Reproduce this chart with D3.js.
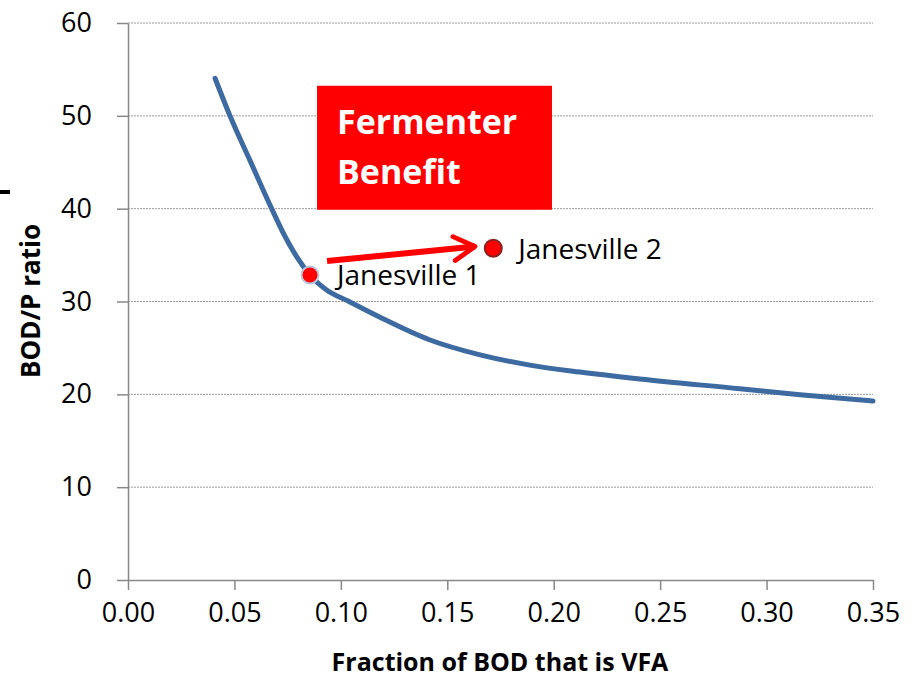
<!DOCTYPE html>
<html>
<head>
<meta charset="utf-8">
<script src="https://cdn.jsdelivr.net/npm/d3@7"></script>
<style>
  body { margin: 0; background: #fff; }
  text { font-family: "Open Sans", Lato, sans-serif; }
</style>
</head>
<body>
<svg id="chart" width="917" height="680"></svg>
<script>
// curve
const curveX = [0.0409, 0.0479, 0.0573, 0.0675, 0.073, 0.0793, 0.0855, 0.0933, 0.1034, 0.1184, 0.1419, 0.1654, 0.1888, 0.2123, 0.2405, 0.2875, 0.3157, 0.35];
const curveY = [54.05, 50.0, 45.2, 40.0, 37.35, 34.8, 32.85, 31.25, 30.05, 28.3, 25.85, 24.25, 23.15, 22.4, 21.65, 20.6, 19.95, 19.28];

const pointNames = ['Janesville 1', 'Janesville 2'];
const pointX = [0.0855, 0.1716];
const pointY = [32.85, 35.73];

const arrowFrom = [0.0935, 34.36];
const arrowTo = [0.163, 35.92];

const xTicks = [0, 0.05, 0.1, 0.15, 0.2, 0.25, 0.3, 0.35];
const yTicks = [0, 10, 20, 30, 40, 50, 60];

const boxLines = ['Fermenter', 'Benefit'];

const margin = { top: 23, right: 44, bottom: 100, left: 128 };
const width = 917 - margin.left - margin.right;
const height = 680 - margin.top - margin.bottom;

const svg = d3.select('#chart');
const g = svg.append('g')
  .attr('transform', `translate(${margin.left}, ${margin.top})`);

const x = d3.scaleLinear().domain([0, 0.35]).range([0, width]);
const y = d3.scaleLinear().domain([0, 60]).range([height, 0]);

// gridlines
g.selectAll('.grid')
  .data(yTicks.filter(d => d > 0))
  .enter()
  .append('line')
  .attr('class', 'grid')
  .attr('x1', 0)
  .attr('x2', width)
  .attr('y1', d => y(d))
  .attr('y2', d => y(d))
  .attr('stroke', '#9a9a9a')
  .attr('stroke-width', 1)
  .attr('stroke-dasharray', '2,1');

const yAxis = d3.axisLeft(y)
  .tickValues(yTicks)
  .tickSize(11)
  .tickPadding(25)
  .tickSizeOuter(0);

const xAxis = d3.axisBottom(x)
  .tickValues(xTicks)
  .tickFormat(d3.format('.2f'))
  .tickSize(10)
  .tickPadding(13)
  .tickSizeOuter(0);

const ya = g.append('g').attr('class', 'y axis').call(yAxis);
const xa = g.append('g').attr('class', 'x axis')
  .attr('transform', `translate(0, ${height})`)
  .call(xAxis);

[ya, xa].forEach((a) => {
  a.attr('font-family', null);
  a.select('.domain').attr('stroke', '#888').attr('stroke-width', 1.5);
  a.selectAll('.tick line').attr('stroke', '#888').attr('stroke-width', 1.5);
  a.selectAll('.tick text').attr('fill', '#000').style('font-size', '27px');
});

// axis titles
svg.append('text')
  .attr('x', 500)
  .attr('y', 671)
  .attr('text-anchor', 'middle')
  .style('font-size', '25px')
  .style('font-weight', 'bold')
  .text('Fraction of BOD that is VFA');

svg.append('text')
  .attr('transform', 'translate(40, 301) rotate(-90)')
  .attr('text-anchor', 'middle')
  .style('font-size', '26px')
  .style('font-weight', 'bold')
  .text('BOD/P ratio');

// stray dash at the left edge
svg.append('rect')
  .attr('x', 0)
  .attr('y', 190)
  .attr('width', 10)
  .attr('height', 4)
  .attr('fill', '#000');

// fermenter box
const box = g.append('g').attr('transform', `translate(${x(0.0888)}, ${y(53.24)})`);
box.append('rect')
  .attr('width', 235)
  .attr('height', 124)
  .attr('fill', '#ff0000');
box.selectAll('text')
  .data(boxLines)
  .enter()
  .append('text')
  .attr('x', 20)
  .attr('y', (d, i) => 48 + i * 50)
  .attr('fill', '#fff')
  .style('font-size', '34px')
  .style('font-weight', 'bold')
  .text(d => d);

// curve
const curve = curveX.map((v, i) => [v, curveY[i]]);
g.append('path')
  .datum(curve)
  .attr('fill', 'none')
  .attr('stroke', '#3d6aa0')
  .attr('stroke-width', 5)
  .attr('stroke-linecap', 'round')
  .attr('d', d3.line().x(d => x(d[0])).y(d => y(d[1])).curve(d3.curveMonotoneX));

// arrow
svg.append('defs').append('marker')
  .attr('id', 'head')
  .attr('viewBox', '0 0 10 10')
  .attr('refX', 8)
  .attr('refY', 5)
  .attr('markerWidth', 5)
  .attr('markerHeight', 5)
  .attr('markerUnits', 'strokeWidth')
  .attr('orient', 'auto')
  .append('path')
  .attr('d', 'M1,1 L8,5 L1,9')
  .attr('fill', 'none')
  .attr('stroke', '#ff0000')
  .attr('stroke-width', 1.6)
  .attr('stroke-linecap', 'round')
  .attr('stroke-linejoin', 'round');

g.append('line')
  .attr('x1', x(arrowFrom[0]))
  .attr('y1', y(arrowFrom[1]))
  .attr('x2', x(arrowTo[0]))
  .attr('y2', y(arrowTo[1]))
  .attr('stroke', '#ff0000')
  .attr('stroke-width', 6)
  .attr('marker-end', 'url(#head)');

// points
const pts = pointNames.map((n, i) => ({ name: n, x: pointX[i], y: pointY[i] }));
g.selectAll('.pt')
  .data(pts)
  .enter()
  .append('circle')
  .attr('class', 'pt')
  .attr('cx', d => x(d.x))
  .attr('cy', d => y(d.y))
  .attr('r', 8.5)
  .attr('fill', '#ff0000')
  .attr('stroke', (d, i) => (i === 0 ? '#b8c8e0' : '#8b2020'))
  .attr('stroke-width', 2);

g.selectAll('.lbl')
  .data(pts)
  .enter()
  .append('text')
  .attr('class', 'lbl')
  .attr('x', (d, i) => x(d.x) + (i === 0 ? 27 : 25))
  .attr('y', (d, i) => y(d.y) + (i === 0 ? 10 : 11))
  .attr('fill', '#000')
  .style('font-size', '28px')
  .text(d => d.name);
</script>
</body>
</html>
